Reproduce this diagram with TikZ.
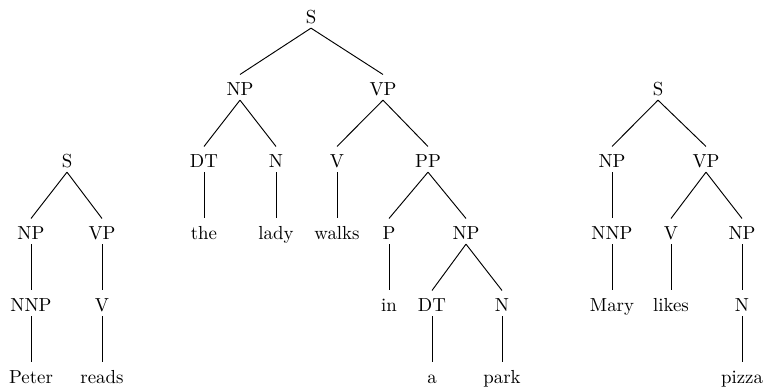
\documentclass[tikz,border=0pt]{standalone}
\begin{document}
\begin{tikzpicture}[x=0.53pt,y=-0.53pt,
  lab/.style={anchor=base,inner sep=2pt,text height=9.2pt,text depth=0pt},
  edge/.style={draw=black,line width=0.5pt}]
\useasboundingbox (0,0) rectangle (763,387);
\def\La{24}\def\Lb{96}\def\Lc{168}\def\Ld{240}\def\Le{312}\def\Lf{384}
% Tree 1
\node[lab] (a-s) at (67,\Lc) {S};
\node[lab] (a-np) at (31,\Ld) {NP};
\node[lab] (a-vp) at (102,\Ld) {VP};
\node[lab] (a-nnp) at (31,\Le) {NNP};
\node[lab] (a-v) at (102,\Le) {V};
\node[lab] (a-peter) at (31,\Lf) {Peter};
\node[lab] (a-reads) at (102,\Lf) {reads};
\draw[edge] (a-s.south) -- (a-np.north);
\draw[edge] (a-s.south) -- (a-vp.north);
\draw[edge] (a-np.south) -- (a-nnp.north);
\draw[edge] (a-vp.south) -- (a-v.north);
\draw[edge] (a-nnp.south) -- (a-peter.north);
\draw[edge] (a-v.south) -- (a-reads.north);
% Tree 2
\node[lab] (b-s) at (311,\La) {S};
\node[lab] (b-np) at (240,\Lb) {NP};
\node[lab] (b-vp) at (383,\Lb) {VP};
\node[lab] (b-dt) at (204,\Lc) {DT};
\node[lab] (b-n) at (276,\Lc) {N};
\node[lab] (b-v) at (337,\Lc) {V};
\node[lab] (b-pp) at (428,\Lc) {PP};
\node[lab] (b-the) at (204,\Ld) {the};
\node[lab] (b-lady) at (276,\Ld) {lady};
\node[lab] (b-walks) at (337,\Ld) {walks};
\node[lab] (b-p) at (389,\Ld) {P};
\node[lab] (b-np2) at (466,\Ld) {NP};
\node[lab] (b-in) at (389,\Le) {in};
\node[lab] (b-dt2) at (432,\Le) {DT};
\node[lab] (b-n2) at (502,\Le) {N};
\node[lab] (b-a) at (432,\Lf) {a};
\node[lab] (b-park) at (502,\Lf) {park};
\draw[edge] (b-s.south) -- (b-np.north);
\draw[edge] (b-s.south) -- (b-vp.north);
\draw[edge] (b-np.south) -- (b-dt.north);
\draw[edge] (b-np.south) -- (b-n.north);
\draw[edge] (b-vp.south) -- (b-v.north);
\draw[edge] (b-vp.south) -- (b-pp.north);
\draw[edge] (b-dt.south) -- (b-the.north);
\draw[edge] (b-n.south) -- (b-lady.north);
\draw[edge] (b-v.south) -- (b-walks.north);
\draw[edge] (b-pp.south) -- (b-p.north);
\draw[edge] (b-pp.south) -- (b-np2.north);
\draw[edge] (b-p.south) -- (b-in.north);
\draw[edge] (b-np2.south) -- (b-dt2.north);
\draw[edge] (b-np2.south) -- (b-n2.north);
\draw[edge] (b-dt2.south) -- (b-a.north);
\draw[edge] (b-n2.south) -- (b-park.north);
% Tree 3
\node[lab] (c-s) at (658,\Lb) {S};
\node[lab] (c-np) at (612,\Lc) {NP};
\node[lab] (c-vp) at (706,\Lc) {VP};
\node[lab] (c-nnp) at (612,\Ld) {NNP};
\node[lab] (c-v) at (671,\Ld) {V};
\node[lab] (c-np2) at (742,\Ld) {NP};
\node[lab] (c-mary) at (612,\Le) {Mary};
\node[lab] (c-likes) at (671,\Le) {likes};
\node[lab] (c-n) at (742,\Le) {N};
\node[lab] (c-pizza) at (742,\Lf) {pizza};
\draw[edge] (c-s.south) -- (c-np.north);
\draw[edge] (c-s.south) -- (c-vp.north);
\draw[edge] (c-np.south) -- (c-nnp.north);
\draw[edge] (c-vp.south) -- (c-v.north);
\draw[edge] (c-vp.south) -- (c-np2.north);
\draw[edge] (c-nnp.south) -- (c-mary.north);
\draw[edge] (c-v.south) -- (c-likes.north);
\draw[edge] (c-np2.south) -- (c-n.north);
\draw[edge] (c-n.south) -- (c-pizza.north);
\end{tikzpicture}
\end{document}
